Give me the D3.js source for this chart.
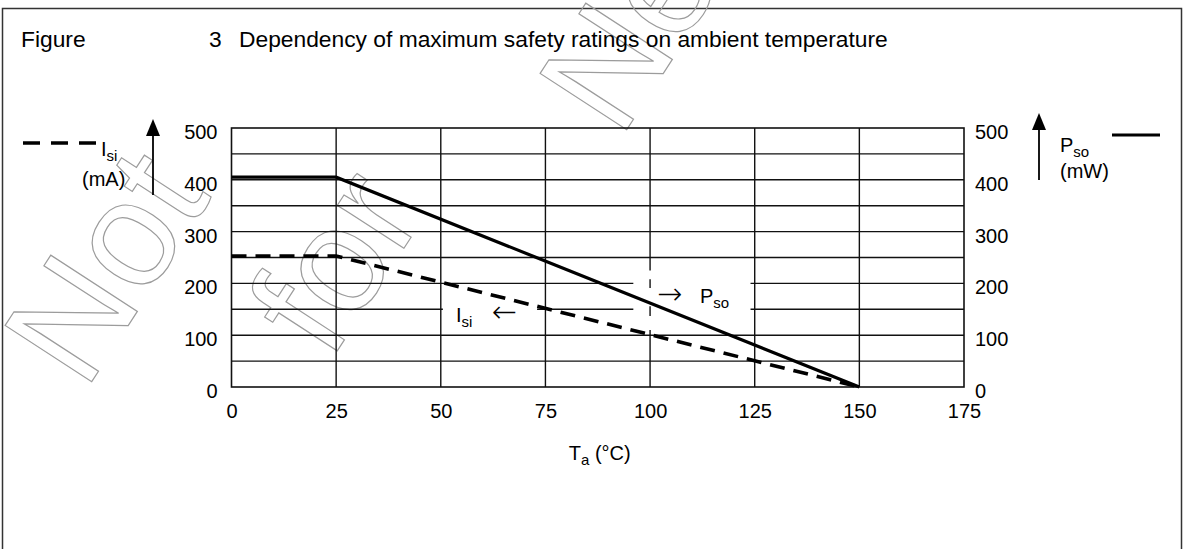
<!DOCTYPE html>
<html>
<head>
<meta charset="utf-8">
<title>Dependency of maximum safety ratings on ambient temperature</title>
<script src="https://cdnjs.cloudflare.com/ajax/libs/d3/7.8.5/d3.min.js"></script>
<style>
body { margin: 0; background: #fff; }
svg { display: block; font-family: "Liberation Sans", Arial, sans-serif; }
.axis text { font-size: 20px; fill: #000; font-family: "Liberation Sans", Arial, sans-serif; }
.axis path, .axis line { display: none; }
.grid line { stroke: #111; stroke-width: 1.4px; }
.lbl { font-size: 20px; fill: #000; }
.ttl { font-size: 22.8px; fill: #000; }
.wm text { fill: none; stroke: #9c9c9c; stroke-width: 1.2px; font-size: 150px; }
</style>
</head>
<body>
<svg width="1188" height="549"></svg>
<script>
// values
var temps = [0, 25, 150];        // T_a (°C)
var psoVals = [405, 405, 0];     // P_so (mW)
var isiVals = [253, 253, 0];     // I_si (mA)
var xTicks = [0, 25, 50, 75, 100, 125, 150, 175];
var yTicks = [0, 100, 200, 300, 400, 500];
var yGrid = [50, 100, 150, 200, 250, 300, 350, 400, 450];
var xGrid = [25, 50, 75, 100, 125, 150];
// grid pieces left out behind the in-plot labels
var hGaps = { 150: [[50.5, 73], [96, 124]], 200: [[96, 124]] };
var vGaps = { 100: [[110, 137], [156, 191], [208, 225]] };

var svg = d3.select("svg");

// outer frame
svg.append("rect")
    .attr("x", 2.5).attr("y", 8.5)
    .attr("width", 1179).attr("height", 600)
    .attr("fill", "none").attr("stroke", "#333").attr("stroke-width", 1.5);

// watermark
var wm = svg.append("g").attr("class", "wm");
[["Not", 85, 392], ["for", 330, 362], ["New", 620, 140]].forEach(function(w) {
  wm.append("text")
      .attr("transform", "translate(" + w[1] + "," + w[2] + ") rotate(-57)")
      .text(w[0]);
});

// title
svg.append("text").attr("class", "ttl").attr("x", 21).attr("y", 47).text("Figure");
svg.append("text").attr("class", "ttl").attr("x", 209).attr("y", 47).text("3");
svg.append("text").attr("class", "ttl").attr("x", 239).attr("y", 47)
    .text("Dependency of maximum safety ratings on ambient temperature");

var x = d3.scaleLinear().domain([0, 175]).range([231.5, 964]);
var y = d3.scaleLinear().domain([0, 500]).range([387, 128]);

function pieces(lo, hi, gaps) {
  var out = [], cur = lo;
  (gaps || []).forEach(function(g) { out.push([cur, g[0]]); cur = g[1]; });
  out.push([cur, hi]);
  return out;
}

var grid = svg.append("g").attr("class", "grid");
yGrid.forEach(function(v) {
  pieces(0, 175, hGaps[v]).forEach(function(p) {
    grid.append("line")
        .attr("x1", x(p[0])).attr("x2", x(p[1]))
        .attr("y1", y(v)).attr("y2", y(v));
  });
});
xGrid.forEach(function(t) {
  pieces(0, 500, vGaps[t]).forEach(function(p) {
    grid.append("line")
        .attr("x1", x(t)).attr("x2", x(t))
        .attr("y1", y(p[0])).attr("y2", y(p[1]));
  });
});

svg.append("rect")
    .attr("x", x(0)).attr("y", y(500))
    .attr("width", x(175) - x(0)).attr("height", y(0) - y(500))
    .attr("fill", "none").attr("stroke", "#111").attr("stroke-width", 1.6);

// axes
svg.append("g").attr("class", "axis")
    .attr("transform", "translate(" + x(0) + ",0)")
    .call(d3.axisLeft(y).tickValues(yTicks).tickSize(0).tickPadding(14))
    .selectAll("text").attr("dy", "0.52em");
svg.append("g").attr("class", "axis")
    .attr("transform", "translate(" + x(175) + ",0)")
    .call(d3.axisRight(y).tickValues(yTicks).tickSize(0).tickPadding(11))
    .selectAll("text").attr("dy", "0.52em");
svg.append("g").attr("class", "axis")
    .attr("transform", "translate(0," + y(0) + ")")
    .call(d3.axisBottom(x).tickValues(xTicks).tickSize(0).tickPadding(17));

// x title
var xt = svg.append("text").attr("class", "lbl").attr("x", x(87.5) + 2).attr("y", 460).attr("text-anchor", "middle");
xt.append("tspan").text("T");
xt.append("tspan").attr("dy", 5).style("font-size", "15px").text("a");
xt.append("tspan").attr("dy", -5).text(" (°C)");

// curves
var line = d3.line()
    .x(function(d) { return x(d[0]); })
    .y(function(d) { return y(d[1]); });

svg.append("path")
    .datum(d3.zip(temps, psoVals))
    .attr("d", line)
    .attr("fill", "none").attr("stroke", "#000").attr("stroke-width", 3.2);
svg.append("path")
    .datum(d3.zip(temps, isiVals))
    .attr("d", line)
    .attr("fill", "none").attr("stroke", "#000").attr("stroke-width", 3.6)
    .attr("stroke-dasharray", "15,9");

// in-plot labels
svg.append("text").attr("class", "lbl").attr("x", 657).attr("y", 304)
    .style("font-size", "30px").style("font-family", "DejaVu Sans").style("font-weight", "200").text("→");
var pl = svg.append("text").attr("class", "lbl").attr("x", 700).attr("y", 303);
pl.append("tspan").text("P");
pl.append("tspan").attr("dy", 5).style("font-size", "15px").text("so");

var il = svg.append("text").attr("class", "lbl").attr("x", 456).attr("y", 322);
il.append("tspan").text("I");
il.append("tspan").attr("dy", 5).style("font-size", "15px").text("si");
svg.append("text").attr("class", "lbl").attr("x", 492).attr("y", 322)
    .style("font-size", "30px").style("font-family", "DejaVu Sans").style("font-weight", "200").text("←");

// legend: left (I_si)
svg.append("line")
    .attr("x1", 23).attr("x2", 97).attr("y1", 143).attr("y2", 143)
    .attr("stroke", "#000").attr("stroke-width", 3.6).attr("stroke-dasharray", "17,11");
var ll = svg.append("text").attr("class", "lbl").attr("x", 101).attr("y", 156);
ll.append("tspan").text("I");
ll.append("tspan").attr("dy", 5).style("font-size", "15px").text("si");
svg.append("text").attr("class", "lbl").attr("x", 82).attr("y", 186).text("(mA)");

// legend: right (P_so)
svg.append("line")
    .attr("x1", 1112).attr("x2", 1160).attr("y1", 135).attr("y2", 135)
    .attr("stroke", "#000").attr("stroke-width", 3.2);
var rl = svg.append("text").attr("class", "lbl").attr("x", 1060).attr("y", 152);
rl.append("tspan").text("P");
rl.append("tspan").attr("dy", 5).style("font-size", "15px").text("so");
svg.append("text").attr("class", "lbl").attr("x", 1060).attr("y", 178).text("(mW)");

// axis arrows
function arrow(cx, top, bottom) {
  svg.append("line")
      .attr("x1", cx).attr("x2", cx).attr("y1", bottom).attr("y2", top + 12)
      .attr("stroke", "#000").attr("stroke-width", 1.8);
  svg.append("path")
      .attr("d", "M" + cx + "," + top + "L" + (cx - 7) + "," + (top + 17) + "L" + (cx + 7) + "," + (top + 17) + "Z")
      .attr("fill", "#000");
}
arrow(153, 119, 195);
arrow(1039, 113, 180);
</script>
</body>
</html>
